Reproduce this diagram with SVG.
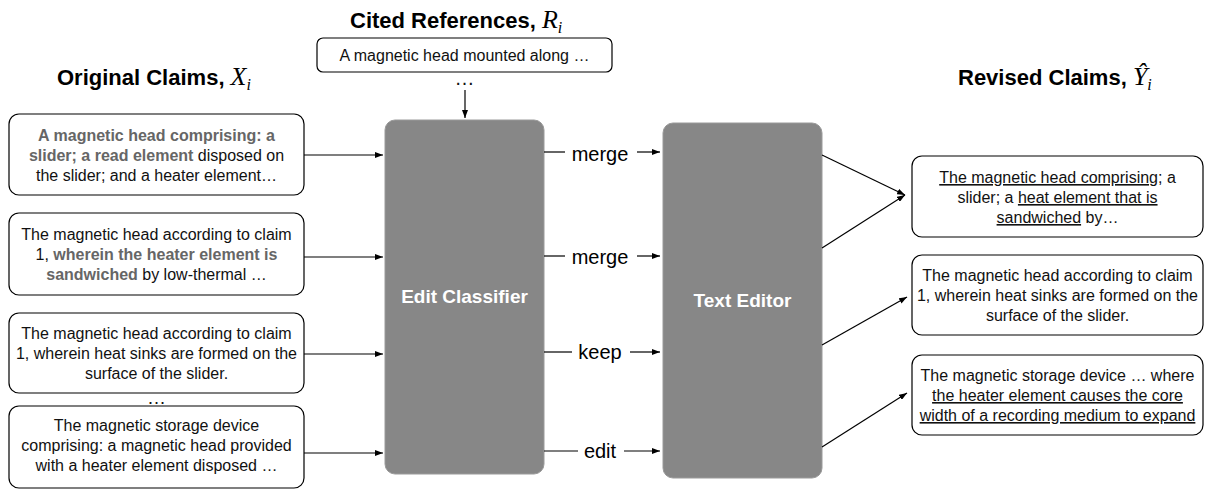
<svg xmlns="http://www.w3.org/2000/svg" width="1205" height="493" viewBox="0 0 1205 493">
<style>
  .title { font-family: "Liberation Sans", Arial, sans-serif; font-size: 22px; font-weight: bold; fill: #000; }
  .math { font-family: "Liberation Serif", "Times New Roman", serif; font-style: italic; fill: #000; }
  .box { fill: #fff; stroke: #000; stroke-width: 1.2; }
  .bt { font-family: "Liberation Sans", Arial, sans-serif; font-size: 16px; fill: #111; text-anchor: middle; }
  .b { font-weight: bold; fill: #666; }
  .u { text-decoration: underline; }
  .proc { fill: #878787; stroke: #9a9a9a; stroke-width: 1; }
  .pt { font-family: "Liberation Sans", Arial, sans-serif; font-size: 19px; font-weight: bold; fill: #fff; text-anchor: middle; }
  .lab { font-family: "Liberation Sans", Arial, sans-serif; font-size: 20px; fill: #000; text-anchor: middle; }
  .dots { font-family: "Liberation Sans", Arial, sans-serif; fill: #111; text-anchor: middle; }
  .c { stroke: #000; stroke-width: 1.2; fill: none; }
  .ca { stroke: #000; stroke-width: 1.2; fill: none; marker-end: url(#ah); }
</style>
<defs>
  <marker id="ah" markerUnits="userSpaceOnUse" markerWidth="8" markerHeight="6" refX="8" refY="3" orient="auto">
    <path d="M0,0 L8,3 L0,6 z" fill="#000"/>
  </marker>
</defs>
<rect width="1205" height="493" fill="#fff"/>

<g id="titles">
  <text class="title" x="57" y="85">Original Claims, <tspan class="math" font-weight="normal" font-size="26">X</tspan><tspan class="math" font-weight="normal" font-size="16" dy="5">i</tspan></text>
  <text class="title" x="350" y="28">Cited References, <tspan class="math" font-weight="normal" font-size="26">R</tspan><tspan class="math" font-weight="normal" font-size="16" dy="5">i</tspan></text>
  <text class="title" x="958" y="85">Revised Claims, <tspan class="math" font-weight="normal" font-size="26">Ŷ</tspan><tspan class="math" font-weight="normal" font-size="16" dy="5">i</tspan></text>
</g>

<g id="cited">
  <rect class="box" x="317" y="38" width="295" height="34" rx="6"/>
  <text class="bt" x="464.5" y="61">A magnetic head mounted along …</text>
  <text class="dots" font-size="20" x="464.5" y="85">…</text>
</g>

<g id="x1">
  <rect class="box" x="9" y="114" width="295" height="81" rx="10"/>
  <text class="bt" x="156.5" y="141"><tspan class="b">A magnetic head comprising: a</tspan></text>
  <text class="bt" x="156.5" y="161"><tspan class="b">slider; a read element</tspan> disposed on</text>
  <text class="bt" x="156.5" y="181">the slider; and a heater element…</text>
</g>
<g id="x2">
  <rect class="box" x="9" y="213" width="295" height="82" rx="10"/>
  <text class="bt" x="156.5" y="240">The magnetic head according to claim</text>
  <text class="bt" x="156.5" y="260">1, <tspan class="b">wherein the heater element is</tspan></text>
  <text class="bt" x="156.5" y="280"><tspan class="b">sandwiched</tspan> by low-thermal …</text>
</g>
<g id="x3">
  <rect class="box" x="9" y="313" width="295" height="80" rx="10"/>
  <text class="bt" x="156.5" y="339">The magnetic head according to claim</text>
  <text class="bt" x="156.5" y="359">1, wherein heat sinks are formed on the</text>
  <text class="bt" x="156.5" y="379">surface of the slider.</text>
</g>
<text class="dots" font-size="19" x="156.5" y="404">…</text>
<g id="x4">
  <rect class="box" x="9" y="406" width="295" height="82" rx="10"/>
  <text class="bt" x="156.5" y="431">The magnetic storage device</text>
  <text class="bt" x="156.5" y="451">comprising: a magnetic head provided</text>
  <text class="bt" x="156.5" y="471">with a heater element disposed …</text>
</g>

<g id="edit-classifier">
  <rect class="proc" x="385" y="120" width="159" height="354" rx="10"/>
  <text class="pt" x="464.5" y="303">Edit Classifier</text>
</g>
<g id="text-editor">
  <rect class="proc" x="663" y="123" width="159" height="355" rx="10"/>
  <text class="pt" x="742.5" y="307">Text Editor</text>
</g>

<g id="y1">
  <rect class="box" x="912" y="156" width="291" height="81" rx="10"/>
  <text class="bt" x="1057.5" y="183"><tspan class="u">The magnetic head comprising</tspan>; a</text>
  <text class="bt" x="1057.5" y="203">slider; a <tspan class="u">heat element that is</tspan></text>
  <text class="bt" x="1057.5" y="223"><tspan class="u">sandwiched</tspan> by…</text>
</g>
<g id="y2">
  <rect class="box" x="912" y="255" width="291" height="80" rx="10"/>
  <text class="bt" x="1057.5" y="281">The magnetic head according to claim</text>
  <text class="bt" x="1057.5" y="301">1, wherein heat sinks are formed on the</text>
  <text class="bt" x="1057.5" y="321">surface of the slider.</text>
</g>
<g id="y3">
  <rect class="box" x="912" y="355" width="291" height="80" rx="10"/>
  <text class="bt" x="1057.5" y="381">The magnetic storage device … where</text>
  <text class="bt" x="1057.5" y="401"><tspan class="u">the heater element causes the core</tspan></text>
  <text class="bt" x="1057.5" y="421"><tspan class="u">width of a recording medium to expand</tspan></text>
</g>

<g id="connectors">
  <line class="ca" x1="465" y1="90" x2="465" y2="118"/>
  <line class="ca" x1="304" y1="155" x2="383" y2="155"/>
  <line class="ca" x1="304" y1="257" x2="383" y2="257"/>
  <line class="ca" x1="304" y1="354" x2="383" y2="354"/>
  <line class="ca" x1="304" y1="453" x2="383" y2="453"/>

  <line class="c" x1="544" y1="152" x2="565" y2="152"/>
  <text class="lab" x="600" y="161">merge</text>
  <line class="ca" x1="637" y1="152" x2="660" y2="152"/>

  <line class="c" x1="544" y1="256" x2="565" y2="256"/>
  <text class="lab" x="600" y="264">merge</text>
  <line class="ca" x1="637" y1="256" x2="660" y2="256"/>

  <line class="c" x1="544" y1="352" x2="572" y2="352"/>
  <text class="lab" x="600" y="359">keep</text>
  <line class="ca" x1="630" y1="352" x2="660" y2="352"/>

  <line class="c" x1="544" y1="451" x2="578" y2="451"/>
  <text class="lab" x="600" y="458">edit</text>
  <line class="ca" x1="624" y1="451" x2="660" y2="451"/>

  <line class="ca" x1="822" y1="155" x2="905" y2="195"/>
  <line class="ca" x1="822" y1="248" x2="905" y2="195"/>
  <line class="ca" x1="822" y1="345" x2="907" y2="297"/>
  <line class="ca" x1="822" y1="447" x2="907" y2="393"/>
</g>
</svg>
